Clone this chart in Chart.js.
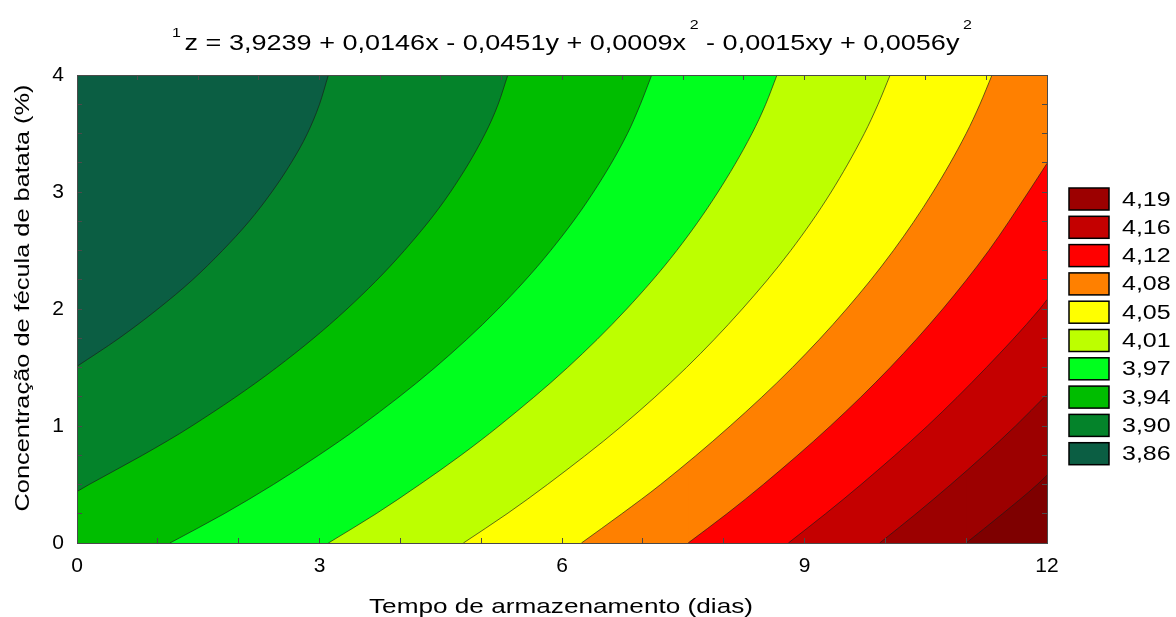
<!DOCTYPE html>
<html lang="pt">
<head>
<meta charset="utf-8">
<script src="https://cdn.jsdelivr.net/npm/chart.js@4.4.1/dist/chart.umd.min.js"></script>
<style>
  html, body { margin: 0; padding: 0; background: #ffffff; }
  #wrap { width: 1176px; height: 617px; position: relative; }
</style>
</head>
<body>
<div id="wrap"><canvas id="grafico"></canvas></div>
<script>
// Níveis das isolinhas (rótulos da legenda) e cor da faixa abaixo de cada nível
const niveis = ['3,86', '3,90', '3,94', '3,97', '4,01', '4,05', '4,08', '4,12', '4,16', '4,19'];
const coresFaixas = ['#0B5E43', '#04832A', '#00BD00', '#00FF1E', '#BDFF00', '#FFFF00', '#FF8000', '#FF0000', '#C40000', '#9C0000'];
const corAcimaMax = '#7E0000';

// Isolinhas: pares [tempo (dias), concentração (%)], da borda esquerda/inferior até a superior/direita
const iso386 = [[0, 1.51], [0.52, 1.75], [1.0, 2.0], [1.43, 2.25], [1.80, 2.5], [2.13, 2.75], [2.41, 3.0], [2.65, 3.25], [2.85, 3.5], [3.0, 3.75], [3.11, 4]];
const iso390 = [[0, 0.44], [0.15, 0.5], [0.81, 0.75], [1.42, 1.0], [2.47, 1.5], [3.34, 2.0], [4.05, 2.5], [4.62, 3.0], [5.05, 3.5], [5.21, 3.75], [5.33, 4]];
const iso394 = [[1.15, 0], [1.82, 0.25], [2.43, 0.5], [2.99, 0.75], [3.51, 1.0], [4.43, 1.5], [5.21, 2.0], [5.86, 2.5], [6.39, 3.0], [6.81, 3.5], [6.97, 3.75], [7.11, 4]];
const iso397 = [[3.11, 0], [3.70, 0.25], [4.24, 0.5], [4.75, 0.75], [5.22, 1.0], [6.07, 1.5], [6.80, 2.0], [7.42, 2.5], [7.93, 3.0], [8.35, 3.5], [8.52, 3.75], [8.66, 4]];
const iso401 = [[4.78, 0], [5.32, 0.25], [5.82, 0.5], [6.74, 1.0], [7.54, 1.5], [8.23, 2.0], [8.83, 2.5], [9.33, 3.0], [9.74, 3.5], [9.91, 3.75], [10.06, 4]];
const iso405 = [[6.24, 0], [6.74, 0.25], [7.22, 0.5], [8.08, 1.0], [8.85, 1.5], [9.52, 2.0], [10.10, 2.5], [10.59, 3.0], [11.0, 3.5], [11.17, 3.75], [11.32, 4]];
const iso408 = [[7.56, 0], [8.04, 0.25], [8.49, 0.5], [9.32, 1.0], [10.06, 1.5], [10.71, 2.0], [11.28, 2.5], [11.77, 3.0], [12, 3.245]];
const iso412 = [[8.80, 0], [9.26, 0.25], [9.70, 0.5], [10.52, 1.0], [11.25, 1.5], [11.91, 2.0], [12, 2.08]];
const iso416 = [[9.93, 0], [10.38, 0.25], [10.81, 0.5], [11.22, 0.75], [11.61, 1.0], [12, 1.27]];
const iso419 = [[11.0, 0], [11.45, 0.25], [11.88, 0.5], [12, 0.58]];
const isolinhas = [iso386, iso390, iso394, iso397, iso401, iso405, iso408, iso412, iso416, iso419];

// Marcas rotuladas dos eixos
const rotulosX = [0, 3, 6, 9, 12];
const rotulosY = [0, 1, 2, 3, 4];

const titulo = ['1', 'z = 3,9239 + 0,0146x - 0,0451y + 0,0009x', '2', ' - 0,0015xy + 0,0056y', '2'];
const tituloX = 'Tempo de armazenamento (dias)';
const tituloY = 'Concentração de fécula de batata (%)';

const FONTE = '"Liberation Sans", Arial, sans-serif';

// Camadas pintadas da faixa mais alta para a mais baixa; cada isolinha preenche até o topo
const datasets = [{
  label: 'fundo',
  data: [{ x: 0, y: 0 }, { x: 12, y: 0 }],
  fill: 'end', backgroundColor: corAcimaMax,
  borderColor: 'transparent', borderWidth: 0, pointRadius: 0, order: 100
}];
isolinhas.forEach((pts, k) => {
  const cor = coresFaixas[k];
  const [x0, y0] = pts[0];
  if (y0 === 0 && x0 > 0) {
    // faixa à esquerda do ponto onde a isolinha toca o eixo x
    datasets.push({
      label: 'faixa ' + niveis[k],
      data: [{ x: 0, y: 0 }, { x: x0 + 0.01, y: 0 }],
      fill: 'end', backgroundColor: cor,
      borderColor: 'transparent', borderWidth: 0, pointRadius: 0, order: 2 * k + 3
    });
  }
  datasets.push({
    label: niveis[k],
    data: pts.map(p => ({ x: p[0], y: p[1] })),
    fill: 'end', backgroundColor: cor,
    borderColor: 'rgba(25,25,25,0.8)', borderWidth: 0.8,
    pointRadius: 0, cubicInterpolationMode: 'monotone', order: 2 * k + 2
  });
});

function textoEsticado(ctx, txt, x, y, sx) {
  ctx.save();
  ctx.translate(x, y);
  ctx.scale(sx, 1);
  ctx.fillText(txt, 0, 0);
  ctx.restore();
}

const textos = {
  id: 'textos',
  afterDraw(chart) {
    const ctx = chart.ctx;
    ctx.save();
    ctx.fillStyle = '#000';
    ctx.textAlign = 'left';
    ctx.textBaseline = 'alphabetic';

    // Título com expoentes
    const fMain = '22px ' + FONTE, fSup = '13px ' + FONTE;
    const partes = titulo.map((t, i) => ({ t, sup: i % 2 === 0 }));
    let larg = 0;
    partes.forEach(p => { ctx.font = p.sup ? fSup : fMain; p.w = ctx.measureText(p.t).width; larg += p.w + (p.sup ? 3 : 0); });
    const esq = 172, dir = 972;
    const sx = (dir - esq) / larg;
    let x = esq;
    partes.forEach((p, i) => {
      ctx.font = p.sup ? fSup : fMain;
      const yb = p.sup ? (i === 0 ? 37 : 29) : 50;
      const xx = p.sup && i > 0 ? x + 3 * sx : x;
      textoEsticado(ctx, p.t, xx, yb, sx);
      x += (p.w + (p.sup ? 3 : 0)) * sx;
    });

    // Título do eixo x
    ctx.font = '21px ' + FONTE;
    const wX = ctx.measureText(tituloX).width;
    const sX = 384 / wX;
    textoEsticado(ctx, tituloX, 561 - wX * sX / 2, 613, sX);

    // Título do eixo y (girado)
    const wY = ctx.measureText(tituloY).width;
    const sY = 427 / wY;
    ctx.save();
    ctx.translate(29, 298);
    ctx.rotate(-Math.PI / 2);
    ctx.scale(sY, 1);
    ctx.fillText(tituloY, -wY / 2, 0);
    ctx.restore();

    // Legenda
    ctx.font = '20px ' + FONTE;
    ctx.textBaseline = 'middle';
    for (let j = 0; j < niveis.length; j++) {
      const k = niveis.length - 1 - j;
      const yc = 199 + j * 28.3;
      ctx.fillStyle = coresFaixas[k];
      ctx.fillRect(1069, yc - 11, 40, 22);
      ctx.strokeStyle = '#000';
      ctx.lineWidth = 1.5;
      ctx.strokeRect(1069, yc - 11, 40, 22);
      ctx.fillStyle = '#000';
      textoEsticado(ctx, niveis[k], 1122, yc + 1, 1.25);
    }
    ctx.restore();
  }
};

const eixoComum = {
  grid: { drawOnChartArea: false, tickLength: -5, color: '#4a4a4a', lineWidth: 1, z: 1 },
  border: { display: true, color: '#4a4a4a', width: 1, z: 1 }
};
const fonteTicks = { family: FONTE, size: 21 };

new Chart(document.getElementById('grafico'), {
  type: 'line',
  data: { datasets },
  options: {
    responsive: true,
    maintainAspectRatio: false,
    animation: false,
    events: [],
    layout: { padding: 0 },
    plugins: {
      legend: { display: false },
      title: { display: false },
      tooltip: { enabled: false }
    },
    scales: {
      x: {
        type: 'linear', position: 'bottom', min: 0, max: 12,
        ticks: {
          stepSize: 1, autoSkip: false, maxRotation: 0, padding: 16, color: '#000', font: fonteTicks,
          callback: v => rotulosX.includes(v) ? String(v) : ''
        },
        ...eixoComum,
        afterFit: s => { s.height = 74; }
      },
      x2: {
        type: 'linear', position: 'top', min: 0, max: 12, display: true,
        ticks: { stepSize: 0.75, autoSkip: false, display: false },
        ...eixoComum,
        afterFit: s => { s.height = 75; }
      },
      y: {
        type: 'linear', position: 'left', min: 0, max: 4,
        ticks: {
          stepSize: 0.25, autoSkip: false, padding: 18, color: '#000', font: fonteTicks,
          callback: v => rotulosY.includes(v) ? String(v) : ''
        },
        ...eixoComum,
        afterFit: s => { s.width = 77; }
      },
      y2: {
        type: 'linear', position: 'right', min: 0, max: 4, display: true,
        ticks: { stepSize: 0.25, autoSkip: false, display: false },
        ...eixoComum,
        afterFit: s => { s.width = 129; }
      }
    }
  },
  plugins: [textos]
});
</script>
</body>
</html>
